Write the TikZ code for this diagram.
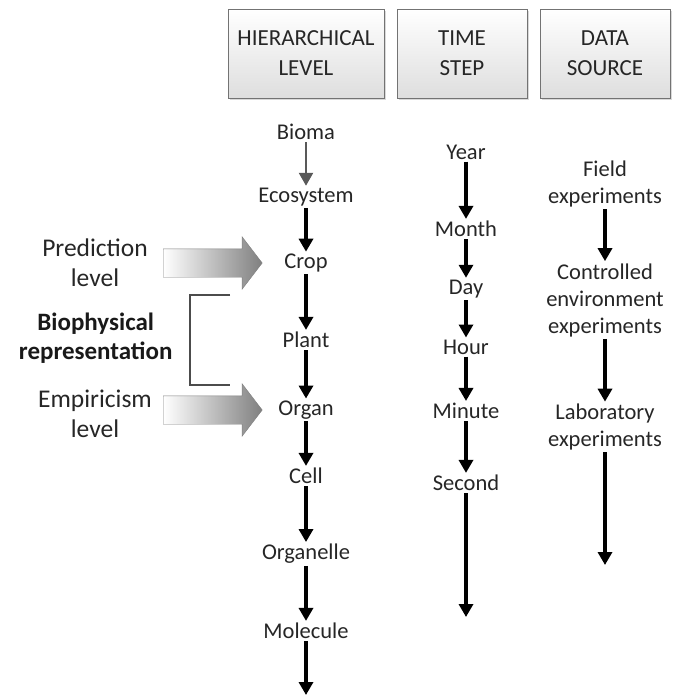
\documentclass[tikz,border=0pt]{standalone}
\usepackage{fontspec}
\setmainfont{Carlito}
\usetikzlibrary{arrows.meta,shapes.arrows,shadows}

\tikzset{ %looks of the boxes, labels and arrows
  header/.style={draw=black!55, top color=white, bottom color=black!13,
    minimum height=89pt, align=center, text=black!85,
    font=\fontsize{23}{30}\selectfont,
    drop shadow={opacity=0.3, shadow xshift=1.5pt, shadow yshift=-1.5pt}},
  level/.style={align=center, text=black!85, inner sep=2pt,
    font=\fontsize{22.5}{27}\selectfont},
  side/.style={align=center, text=black!85, font=\fontsize{25.5}{30}\selectfont},
  down/.style={line width=3.5pt, -{Triangle[width=14pt,length=13pt]}},
  bigarrow/.style={single arrow, draw=black!50, left color=white, right color=black!50,
    inner xsep=0pt, inner ysep=14pt, single arrow head extend=12pt,
    single arrow tip angle=105, minimum height=99pt, anchor=west}
}

\begin{document}
\begin{tikzpicture}[x=1pt, y=-1pt] % pixel-like units, y grows downwards
\useasboundingbox (0,0) rectangle (676,699);

% column headers
\node [header, minimum width=156pt] (hlevel) at (306,53.5) {HIERARCHICAL\\LEVEL};
\node [header, minimum width=130pt] (tstep) at (462,53.5) {TIME\\STEP};
\node [header, minimum width=130pt] (dsource) at (605,53.5) {DATA\\SOURCE};

% hierarchical levels
\node [level] (bioma) at (306,132) {Bioma};
\node [level] (eco) at (306,197) {Ecosystem};
\node [level] (crop) at (306,263) {Crop};
\node [level] (plant) at (306,340) {Plant};
\node [level] (organ) at (306,410) {Organ};
\node [level] (cell) at (306,476) {Cell};
\node [level] (organelle) at (306,554) {Organelle};
\node [level] (molecule) at (306,631) {Molecule};
\coordinate (hend) at (306,695);

% time steps
\node [level] (year) at (466,152) {Year};
\node [level] (month) at (466,229) {Month};
\node [level] (day) at (466,289) {Day};
\node [level] (hour) at (466,347) {Hour};
\node [level] (minute) at (466,411) {Minute};
\node [level] (second) at (466,483) {Second};
\coordinate (tend) at (466,617);

% data sources
\node [level] (field) at (605,184) {Field\\experiments};
\node [level] (controlled) at (605,300) {Controlled\\environment\\experiments};
\node [level] (lab) at (605,427) {Laboratory\\experiments};
\coordinate (dend) at (605,565);

% vertical arrows
\draw [down, line width=2.5pt, black!65] (bioma) -- (eco);
\foreach \a/\b in {eco/crop, crop/plant, plant/organ, organ/cell, cell/organelle,
  organelle/molecule, molecule/hend, year/month, month/day, day/hour, hour/minute,
  minute/second, second/tend, field/controlled, controlled/lab, lab/dend}
  \draw [down] (\a) -- (\b);

% left side labels
\node [side] (predict) at (95,263) {Prediction\\level};
\node [side] (empir) at (95,414) {Empiricism\\level};
\node [side, font=\fontsize{25}{29}\selectfont\bfseries, text=black!90, anchor=east]
  (bio) at (176,338) {Biophysical\\representation};

\node [bigarrow] (parrow) at (163,263) {};
\node [bigarrow] (earrow) at (163,410) {};

% bracket
\coordinate (btop) at (230,295);
\coordinate (bbot) at (230,385);
\draw [line width=2pt, black!70] (btop) -- ++(-40,0) |- (bbot);

\end{tikzpicture}
\end{document}
